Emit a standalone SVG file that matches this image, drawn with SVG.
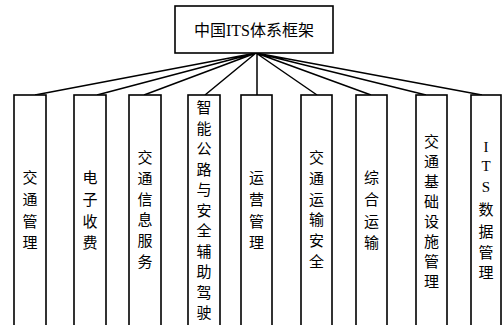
<svg xmlns="http://www.w3.org/2000/svg" width="504" height="325" viewBox="0 0 504 325">
<style>
.box{fill:#fff;stroke:#000;stroke-width:1.6}
.ln{stroke:#000;stroke-width:1.5;fill:none}
.t{font-family:"Liberation Serif","Noto Sans CJK SC",serif;font-size:15px;fill:#000;text-anchor:middle;dominant-baseline:central}
.h{font-size:16px}
</style>
<rect width="504" height="325" fill="#fff"/>
<g id="connectors">
<path class="ln" d="M256,53 L35,95 M256,53 L97,95 M256,53 L144,95 M256,53 L205,95 M257,53 L257,95 M256,53 L317,95 M256,53 L371,95 M256,53 L426,95 M256,53 L482,95"/>
</g>
<g id="root">
<rect class="box" x="175" y="6" width="158" height="47"/>
<text class="t h" x="254" y="30">中国ITS体系框架</text>
</g>
<g id="n1">
<rect class="box" x="14" y="95" width="32" height="240"/>
<text class="t"><tspan x="30" y="178">交</tspan><tspan x="30" y="200">通</tspan><tspan x="30" y="222">管</tspan><tspan x="30" y="243">理</tspan></text>
</g>
<g id="n2">
<rect class="box" x="74" y="95" width="32" height="240"/>
<text class="t"><tspan x="90" y="178">电</tspan><tspan x="90" y="200">子</tspan><tspan x="90" y="222">收</tspan><tspan x="90" y="243">费</tspan></text>
</g>
<g id="n3">
<rect class="box" x="129" y="95" width="32" height="240"/>
<text class="t"><tspan x="145" y="158">交</tspan><tspan x="145" y="179">通</tspan><tspan x="145" y="200">信</tspan><tspan x="145" y="220">息</tspan><tspan x="145" y="241">服</tspan><tspan x="145" y="262">务</tspan></text>
</g>
<g id="n4">
<rect class="box" x="188" y="95" width="32" height="240"/>
<text class="t"><tspan x="204" y="108">智</tspan><tspan x="204" y="128.5">能</tspan><tspan x="204" y="149">公</tspan><tspan x="204" y="169.5">路</tspan><tspan x="204" y="190">与</tspan><tspan x="204" y="210.5">安</tspan><tspan x="204" y="231">全</tspan><tspan x="204" y="251.5">辅</tspan><tspan x="204" y="272">助</tspan><tspan x="204" y="292.5">驾</tspan><tspan x="204" y="313">驶</tspan></text>
</g>
<g id="n5">
<rect class="box" x="241" y="95" width="31" height="240"/>
<text class="t"><tspan x="256.5" y="178">运</tspan><tspan x="256.5" y="200">营</tspan><tspan x="256.5" y="222">管</tspan><tspan x="256.5" y="243">理</tspan></text>
</g>
<g id="n6">
<rect class="box" x="301" y="95" width="31" height="240"/>
<text class="t"><tspan x="316.5" y="158">交</tspan><tspan x="316.5" y="179">通</tspan><tspan x="316.5" y="200">运</tspan><tspan x="316.5" y="220">输</tspan><tspan x="316.5" y="241">安</tspan><tspan x="316.5" y="262">全</tspan></text>
</g>
<g id="n7">
<rect class="box" x="356" y="95" width="31" height="240"/>
<text class="t"><tspan x="371.5" y="178">综</tspan><tspan x="371.5" y="200">合</tspan><tspan x="371.5" y="222">运</tspan><tspan x="371.5" y="243">输</tspan></text>
</g>
<g id="n8">
<rect class="box" x="416" y="95" width="31" height="240"/>
<text class="t"><tspan x="431.5" y="142">交</tspan><tspan x="431.5" y="162">通</tspan><tspan x="431.5" y="182">基</tspan><tspan x="431.5" y="202">础</tspan><tspan x="431.5" y="222">设</tspan><tspan x="431.5" y="242">施</tspan><tspan x="431.5" y="262">管</tspan><tspan x="431.5" y="282">理</tspan></text>
</g>
<g id="n9">
<rect class="box" x="471" y="95" width="30" height="240"/>
<text class="t"><tspan x="486" y="147">I</tspan><tspan x="486" y="166">T</tspan><tspan x="486" y="187">S</tspan><tspan x="486" y="210">数</tspan><tspan x="486" y="232">据</tspan><tspan x="486" y="253">管</tspan><tspan x="486" y="273">理</tspan></text>
</g>
</svg>
